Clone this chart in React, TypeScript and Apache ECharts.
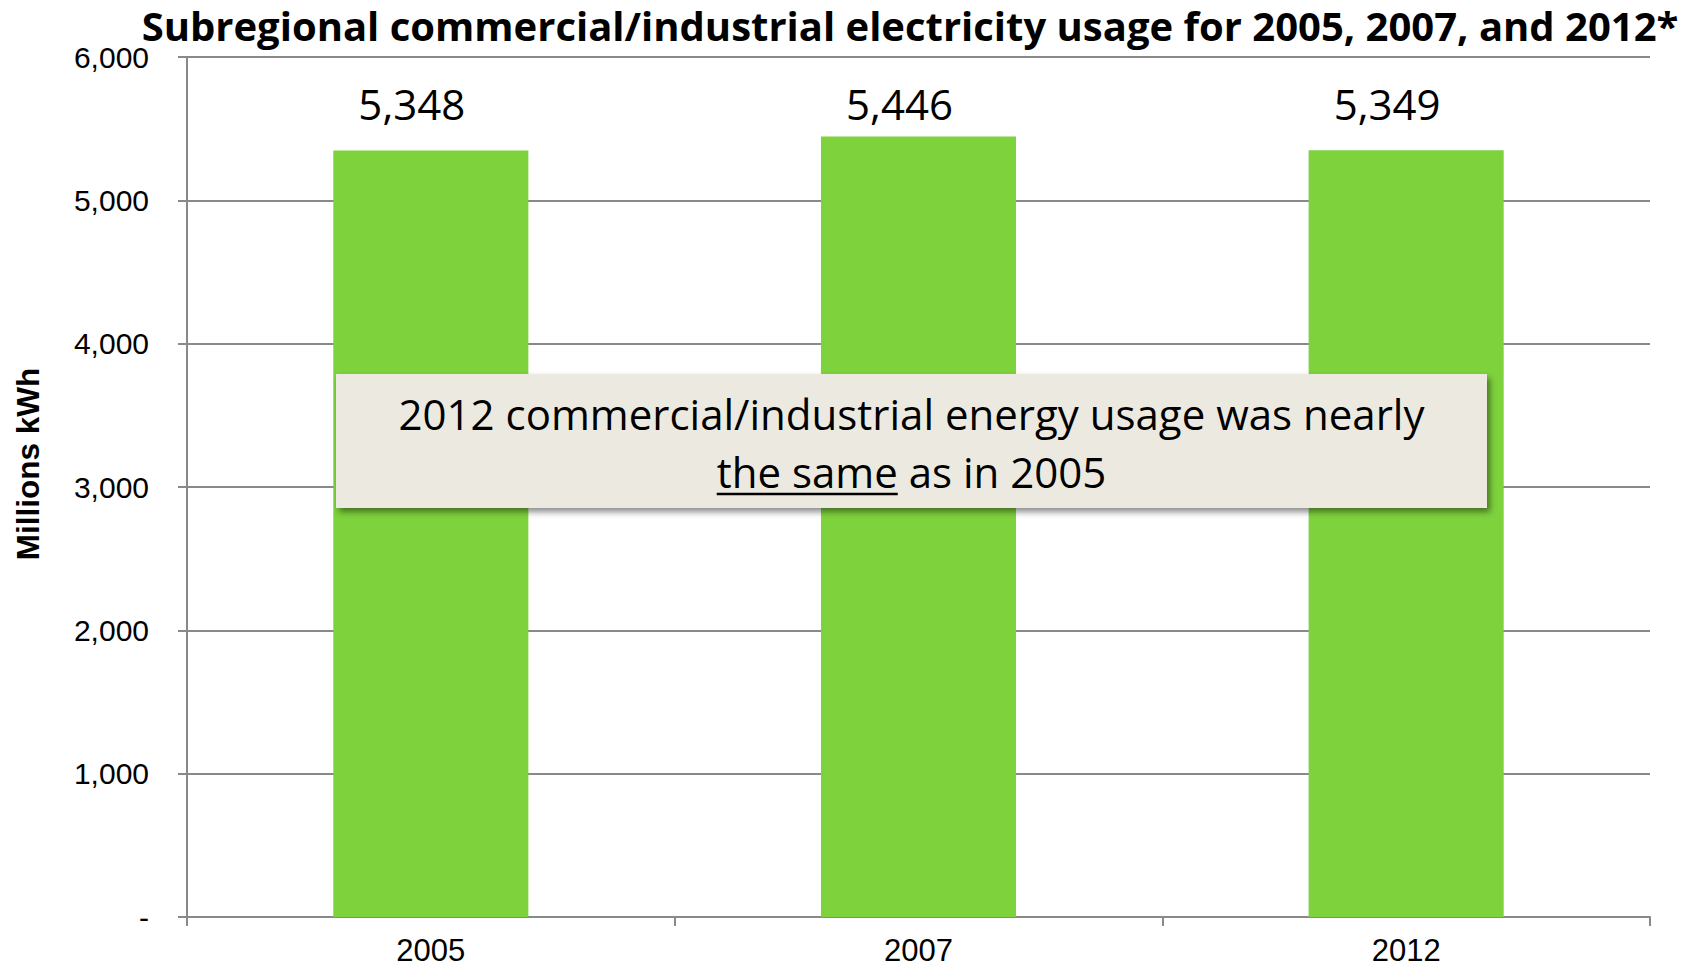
import React, { useEffect, useRef } from "react";
import * as echarts from "echarts";

const categories = ["2005", "2007", "2012"];
const usage = [5348, 5446, 5349];
const yMin = 0;
const yMax = 6000;
const yInterval = 1000;

const titleText =
  "Subregional commercial/industrial electricity usage for 2005, 2007, and 2012*";
const axisName = "Millions kWh";
const noteLine1 = "2012 commercial/industrial energy usage was nearly";
const noteUnderlined = "the same";
const noteRest = " as in 2005";

const W = 1702;
const H = 967;
const NOTE_FONT = "Open Sans";
const NOTE_SIZE = 42;

function measure(text: string, font: string): number {
  const ctx = document.createElement("canvas").getContext("2d");
  if (!ctx) return text.length * 20;
  ctx.font = font;
  return ctx.measureText(text).width;
}

export default function App() {
  const ref = useRef<HTMLDivElement>(null);

  useEffect(() => {
    document.body.style.margin = "0";
    document.body.style.overflow = "hidden";
    if (!ref.current) return;
    const chart = echarts.init(ref.current, null, { renderer: "svg" });

    const boxX = 336;
    const boxY = 374;
    const boxW = 1151;
    const boxH = 134;
    const cx = boxX + boxW / 2;
    const line1Y = 413;
    const line2Y = 471;
    const fontStr = `400 ${NOTE_SIZE}px "${NOTE_FONT}"`;
    const line2 = noteUnderlined + noteRest;
    const fullW = measure(line2, fontStr);
    const ulW = measure(noteUnderlined, fontStr);
    const ulX = cx - fullW / 2;
    const ulY = line2Y + 23;

    const option: any = {
      animation: false,
      backgroundColor: "#ffffff",
      grid: { left: 187, right: 52, top: 57, bottom: 50 },
      xAxis: {
        type: "category",
        data: categories,
        axisLine: { lineStyle: { color: "#898989", width: 2 } },
        axisTick: { show: true, length: 9, lineStyle: { color: "#898989", width: 2 } },
        axisLabel: {
          fontFamily: "Liberation Sans",
          fontSize: 31,
          color: "#000",
          margin: 18,
        },
      },
      yAxis: {
        type: "value",
        min: yMin,
        max: yMax,
        interval: yInterval,
        axisLine: { show: true, lineStyle: { color: "#898989", width: 2 } },
        axisTick: { show: true, length: 9, lineStyle: { color: "#898989", width: 2 } },
        splitLine: { show: true, lineStyle: { color: "#898989", width: 2 } },
        axisLabel: {
          fontFamily: "Liberation Sans",
          fontSize: 30,
          color: "#000",
          margin: 38,
          formatter: (v: number) => (v === 0 ? "-" : v.toLocaleString("en-US")),
        },
      },
      series: [
        {
          type: "bar",
          data: usage,
          barWidth: "40%",
          itemStyle: { color: "#7ED23C" },
          label: {
            show: true,
            position: "top",
            fontFamily: NOTE_FONT,
            fontSize: NOTE_SIZE,
            color: "#000",
            formatter: (p: any) => Number(p.value).toLocaleString("en-US"),
          },
          labelLayout: (p: any) => ({
            x: p.rect.x + p.rect.width / 2 - 19,
            y: 103,
            align: "center",
            verticalAlign: "middle",
          }),
        },
      ],
      graphic: [
        {
          type: "text",
          x: 910,
          y: 25,
          z: 100,
          style: {
            text: titleText,
            fontFamily: "Open Sans",
            fontWeight: "bold",
            fontSize: 40,
            lineHeight: 44,
            fill: "#000",
            align: "center",
            verticalAlign: "middle",
          },
        },
        {
          type: "text",
          x: 28,
          y: 464,
          rotation: Math.PI / 2,
          z: 100,
          style: {
            text: axisName,
            fontFamily: "Liberation Sans",
            fontWeight: "bold",
            fontSize: 31.5,
            fill: "#000",
            align: "center",
            verticalAlign: "middle",
          },
        },
        {
          type: "rect",
          z: 100,
          shape: { x: boxX, y: boxY, width: boxW, height: boxH },
          style: {
            fill: "#ECEAE0",
            shadowBlur: 6,
            shadowOffsetX: 3,
            shadowOffsetY: 4,
            shadowColor: "rgba(0,0,0,0.45)",
          },
        },
        {
          type: "text",
          x: cx,
          y: line1Y,
          z: 101,
          style: {
            text: noteLine1,
            fontFamily: NOTE_FONT,
            fontSize: NOTE_SIZE,
            fill: "#000",
            align: "center",
            verticalAlign: "middle",
          },
        },
        {
          type: "text",
          x: cx,
          y: line2Y,
          z: 101,
          style: {
            text: line2,
            fontFamily: NOTE_FONT,
            fontSize: NOTE_SIZE,
            fill: "#000",
            align: "center",
            verticalAlign: "middle",
          },
        },
        {
          type: "line",
          z: 101,
          shape: { x1: ulX, y1: ulY, x2: ulX + ulW, y2: ulY },
          style: { stroke: "#000", lineWidth: 2.5 },
        },
      ],
    };

    chart.setOption(option);
    return () => {
      chart.dispose();
    };
  }, []);

  return (
    <div
      ref={ref}
      style={{ position: "absolute", left: 0, top: 0, width: W, height: H }}
    />
  );
}
